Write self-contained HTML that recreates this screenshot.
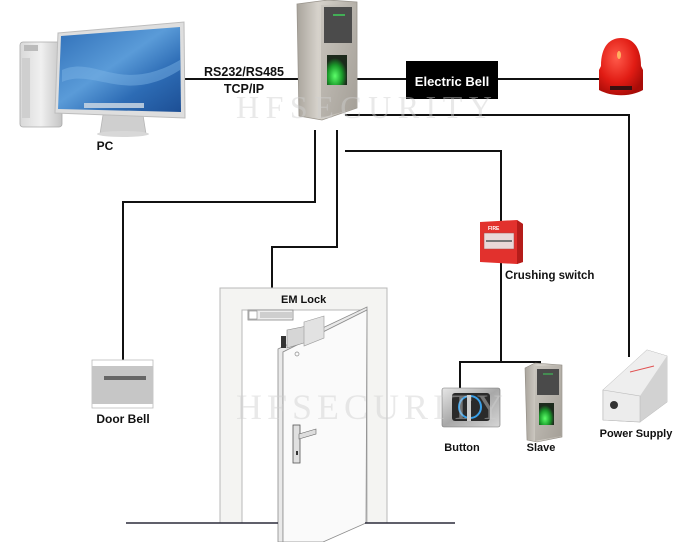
<!DOCTYPE html>
<html><head><meta charset="utf-8"><style>
html,body{margin:0;padding:0;background:#fff;}
svg{display:block;}
text{font-family:"Liberation Sans",Arial,sans-serif;font-weight:bold;fill:#111;}
</style></head><body>
<svg width="700" height="542" viewBox="0 0 700 542" xmlns="http://www.w3.org/2000/svg">
<defs>
<linearGradient id="scr" x1="0" y1="0" x2="1" y2="1">
<stop offset="0" stop-color="#2f6fb8"/><stop offset="0.45" stop-color="#5a9bd8"/><stop offset="0.7" stop-color="#2d6cb5"/><stop offset="1" stop-color="#1d4f95"/></linearGradient>
<linearGradient id="silver" x1="0" y1="0" x2="1" y2="0">
<stop offset="0" stop-color="#d9d9d9"/><stop offset="0.5" stop-color="#f0f0f0"/><stop offset="1" stop-color="#c4c4c4"/></linearGradient>
<linearGradient id="steel" x1="0" y1="0" x2="1" y2="0">
<stop offset="0" stop-color="#a9a49c"/><stop offset="0.35" stop-color="#d6d2cb"/><stop offset="1" stop-color="#b3aea6"/></linearGradient>
<linearGradient id="steel2" x1="0" y1="0" x2="1" y2="1">
<stop offset="0" stop-color="#c9c5be"/><stop offset="1" stop-color="#a49f97"/></linearGradient>
<radialGradient id="red" cx="0.4" cy="0.35" r="0.7">
<stop offset="0" stop-color="#ff5a4a"/><stop offset="0.6" stop-color="#e11c14"/><stop offset="1" stop-color="#a80c08"/></radialGradient>
<radialGradient id="green" cx="0.4" cy="0.7" r="0.6">
<stop offset="0" stop-color="#5cff6a"/><stop offset="0.6" stop-color="#1a9a2a"/><stop offset="1" stop-color="#1c2a1c"/></radialGradient>
<linearGradient id="plate" x1="0" y1="0" x2="1" y2="1">
<stop offset="0" stop-color="#e6e6e6"/><stop offset="0.5" stop-color="#a8a8a8"/><stop offset="1" stop-color="#d6d6d6"/></linearGradient>
</defs>

<!-- connectors -->
<g stroke="#111" stroke-width="2" fill="none">
<line x1="185" y1="79" x2="298" y2="79"/>
<line x1="356" y1="79" x2="601" y2="79"/>
<polyline points="345,115 629,115 629,357"/>
<polyline points="345,151 501,151 501,222"/>
<line x1="501" y1="262" x2="501" y2="362"/>
<polyline points="460,389 460,362 540,362 540,364"/>
<polyline points="315,130 315,202 123,202 123,361"/>
<polyline points="337,130 337,247 272,247 272,311"/>
</g>

<!-- PC tower -->
<rect x="20" y="42" width="42" height="85" rx="3" fill="url(#silver)" stroke="#aaa" stroke-width="0.8"/>
<rect x="24" y="45" width="14" height="6" fill="#bbb"/>
<rect x="22" y="58" width="8" height="60" fill="#cfcfcf"/>
<!-- monitor -->
<polygon points="103,115 143,115 146,134 100,134" fill="#cfcfcf" stroke="#b5b5b5" stroke-width="0.8"/>
<ellipse cx="123" cy="134" rx="26" ry="3" fill="#d8d8d8"/>
<polygon points="58,33 184,22 185,118 55,113" fill="#dedede" stroke="#bdbdbd" stroke-width="1"/>
<polygon points="61,36 180,27 181,112 58,109" fill="url(#scr)"/>
<path d="M62,70 C95,55 120,95 180,60 L180,70 C125,105 95,68 62,82 Z" fill="#7fb6e6" opacity="0.45"/>
<rect x="84" y="103" width="60" height="5" fill="#c9d6e3" opacity="0.85"/>

<!-- labels top -->
<text x="244" y="76" font-size="12.5" text-anchor="middle">RS232/RS485</text>
<text x="244" y="93" font-size="12.5" text-anchor="middle">TCP/IP</text>
<text x="105" y="150" font-size="12" text-anchor="middle">PC</text>

<!-- main device -->
<polygon points="297,4 328,0 357,2 357,108 322,120 299,116" fill="url(#steel)" stroke="#9a958d" stroke-width="0.8"/>
<polygon points="321,5 356,4 356,108 321,118" fill="url(#steel2)"/>
<rect x="324" y="7" width="28" height="36" fill="#4b4b4b"/>
<line x1="333" y1="15" x2="345" y2="15" stroke="#3fcf5a" stroke-width="1.5"/>
<rect x="327" y="55" width="20" height="30" fill="url(#green)"/>

<!-- electric bell box -->
<rect x="406" y="61" width="92" height="38" fill="#000"/>
<text x="452" y="86" font-size="13" text-anchor="middle" style="fill:#fff">Electric Bell</text>

<!-- red bell -->
<path d="M601,66 C601,46 610,38 621,38 C632,38 641,46 641,66 L643,70 L643,90 C630,97 612,97 599,90 L599,70 Z" fill="url(#red)"/>
<rect x="610" y="86" width="22" height="4" fill="#3a1010"/>
<ellipse cx="619" cy="55" rx="2" ry="4" fill="#ffb060"/>

<!-- door frame -->
<rect x="220" y="288" width="167" height="235" fill="#f4f4f2" stroke="#b8b8b8" stroke-width="1"/>
<rect x="242" y="310" width="125" height="213" fill="#fff" stroke="#b8b8b8" stroke-width="1"/>
<!-- EM lock -->
<rect x="248" y="310" width="45" height="10" fill="#eee" stroke="#888" stroke-width="0.8"/>
<rect x="249" y="311" width="8" height="8" fill="#fff" stroke="#888" stroke-width="0.6"/>
<g stroke="#999" stroke-width="0.7"><line x1="260" y1="313" x2="292" y2="313"/><line x1="260" y1="315" x2="292" y2="315"/><line x1="260" y1="317" x2="292" y2="317"/></g>
<text x="281" y="303" font-size="11">EM Lock</text>
<!-- door panel -->
<polygon points="278,349 367,307 367,310 283,352 283,542 278,542" fill="#e9e9e9" stroke="#8c8c8c" stroke-width="0.8"/>
<polygon points="283,352 367,310 366,523 323,542 283,542" fill="#fafafa" stroke="#8c8c8c" stroke-width="0.8"/>
<polygon points="287,330 307,326 307,342 287,348" fill="#d6d6d6" stroke="#888" stroke-width="0.6"/>
<rect x="281" y="336" width="5" height="12" fill="#333"/>
<polygon points="304,322 324,316 324,338 304,346" fill="#e2e2e2" stroke="#999" stroke-width="0.6"/>
<circle cx="297" cy="354" r="2" fill="none" stroke="#888" stroke-width="0.7"/>
<rect x="293" y="425" width="7" height="38" fill="#e0e0e0" stroke="#555" stroke-width="0.8"/>
<polygon points="299,434 316,429 316,434 299,439" fill="#ddd" stroke="#666" stroke-width="0.6"/>
<rect x="296" y="451" width="2" height="4" fill="#333"/>
<!-- floor -->
<g stroke="#2b2b3a" stroke-width="1.5"><line x1="126" y1="523" x2="278" y2="523"/><line x1="365" y1="523" x2="455" y2="523"/></g>

<!-- door bell -->
<rect x="92" y="360" width="61" height="48" fill="#fff" stroke="#bbb" stroke-width="0.8"/>
<rect x="92" y="366" width="61" height="38" fill="#c6c6c6"/>
<rect x="104" y="376" width="42" height="4" fill="#666"/>
<text x="123" y="423" font-size="12" text-anchor="middle">Door Bell</text>

<!-- crushing switch -->
<polygon points="480,222 517,220 523,224 523,262 517,264 480,262" fill="#e2312d"/>
<polygon points="517,220 523,224 523,262 517,264" fill="#b51d1a"/>
<text x="488" y="230" font-size="5" style="fill:#fff">FIRE</text>
<rect x="484" y="233" width="30" height="16" fill="#e9d8d8" stroke="#aa4444" stroke-width="0.5"/>
<line x1="486" y1="241" x2="512" y2="241" stroke="#777" stroke-width="2"/>
<text x="505" y="279" font-size="11.5">Crushing switch</text>

<!-- button -->
<rect x="442" y="388" width="58" height="39" rx="2" fill="url(#plate)" stroke="#777" stroke-width="0.6"/>
<rect x="452" y="393" width="38" height="28" rx="3" fill="#2a2a2a"/>
<ellipse cx="470" cy="407" rx="11" ry="11" fill="none" stroke="#3aa0e8" stroke-width="2"/>
<rect x="467" y="395" width="4" height="26" fill="#ccc"/>
<text x="462" y="451" font-size="11" text-anchor="middle">Button</text>

<!-- slave -->
<polygon points="525,368 535,363 562,365 562,437 537,442 527,440" fill="url(#steel)" stroke="#8f8a82" stroke-width="0.6"/>
<polygon points="535,366 561,366 561,436 535,441" fill="url(#steel2)"/>
<rect x="537" y="369" width="22" height="26" fill="#4a4a4a"/>
<line x1="543" y1="374" x2="553" y2="374" stroke="#3fcf5a" stroke-width="1"/>
<rect x="539" y="403" width="15" height="22" fill="url(#green)"/>
<text x="541" y="451" font-size="11" text-anchor="middle">Slave</text>

<!-- power supply -->
<polygon points="603,390 647,350 667,356 667,402 640,422 603,420" fill="#e3e3e3" stroke="#aaa" stroke-width="0.6"/>
<polygon points="603,390 647,350 667,356 640,396" fill="#eeeeee"/>
<polygon points="640,396 667,356 667,402 640,422" fill="#d2d2d2"/>
<polygon points="603,390 640,396 640,422 603,420" fill="#ececec" stroke="#bbb" stroke-width="0.6"/>
<circle cx="614" cy="405" r="4" fill="#333"/>
<line x1="630" y1="372" x2="654" y2="366" stroke="#e05050" stroke-width="1"/>
<text x="636" y="437" font-size="11" text-anchor="middle">Power Supply</text>

<!-- watermarks (on top) -->
<text x="236" y="118" font-size="32" letter-spacing="6.5" style="font-family:'Liberation Serif',serif;font-weight:normal;fill:#d0d0d0;opacity:0.45">HFSECURITY</text>
<text x="236" y="419" font-size="36" letter-spacing="5" style="font-family:'Liberation Serif',serif;font-weight:normal;fill:#d0d0d0;opacity:0.45">HFSECURITY</text>
</svg>
</body></html>
